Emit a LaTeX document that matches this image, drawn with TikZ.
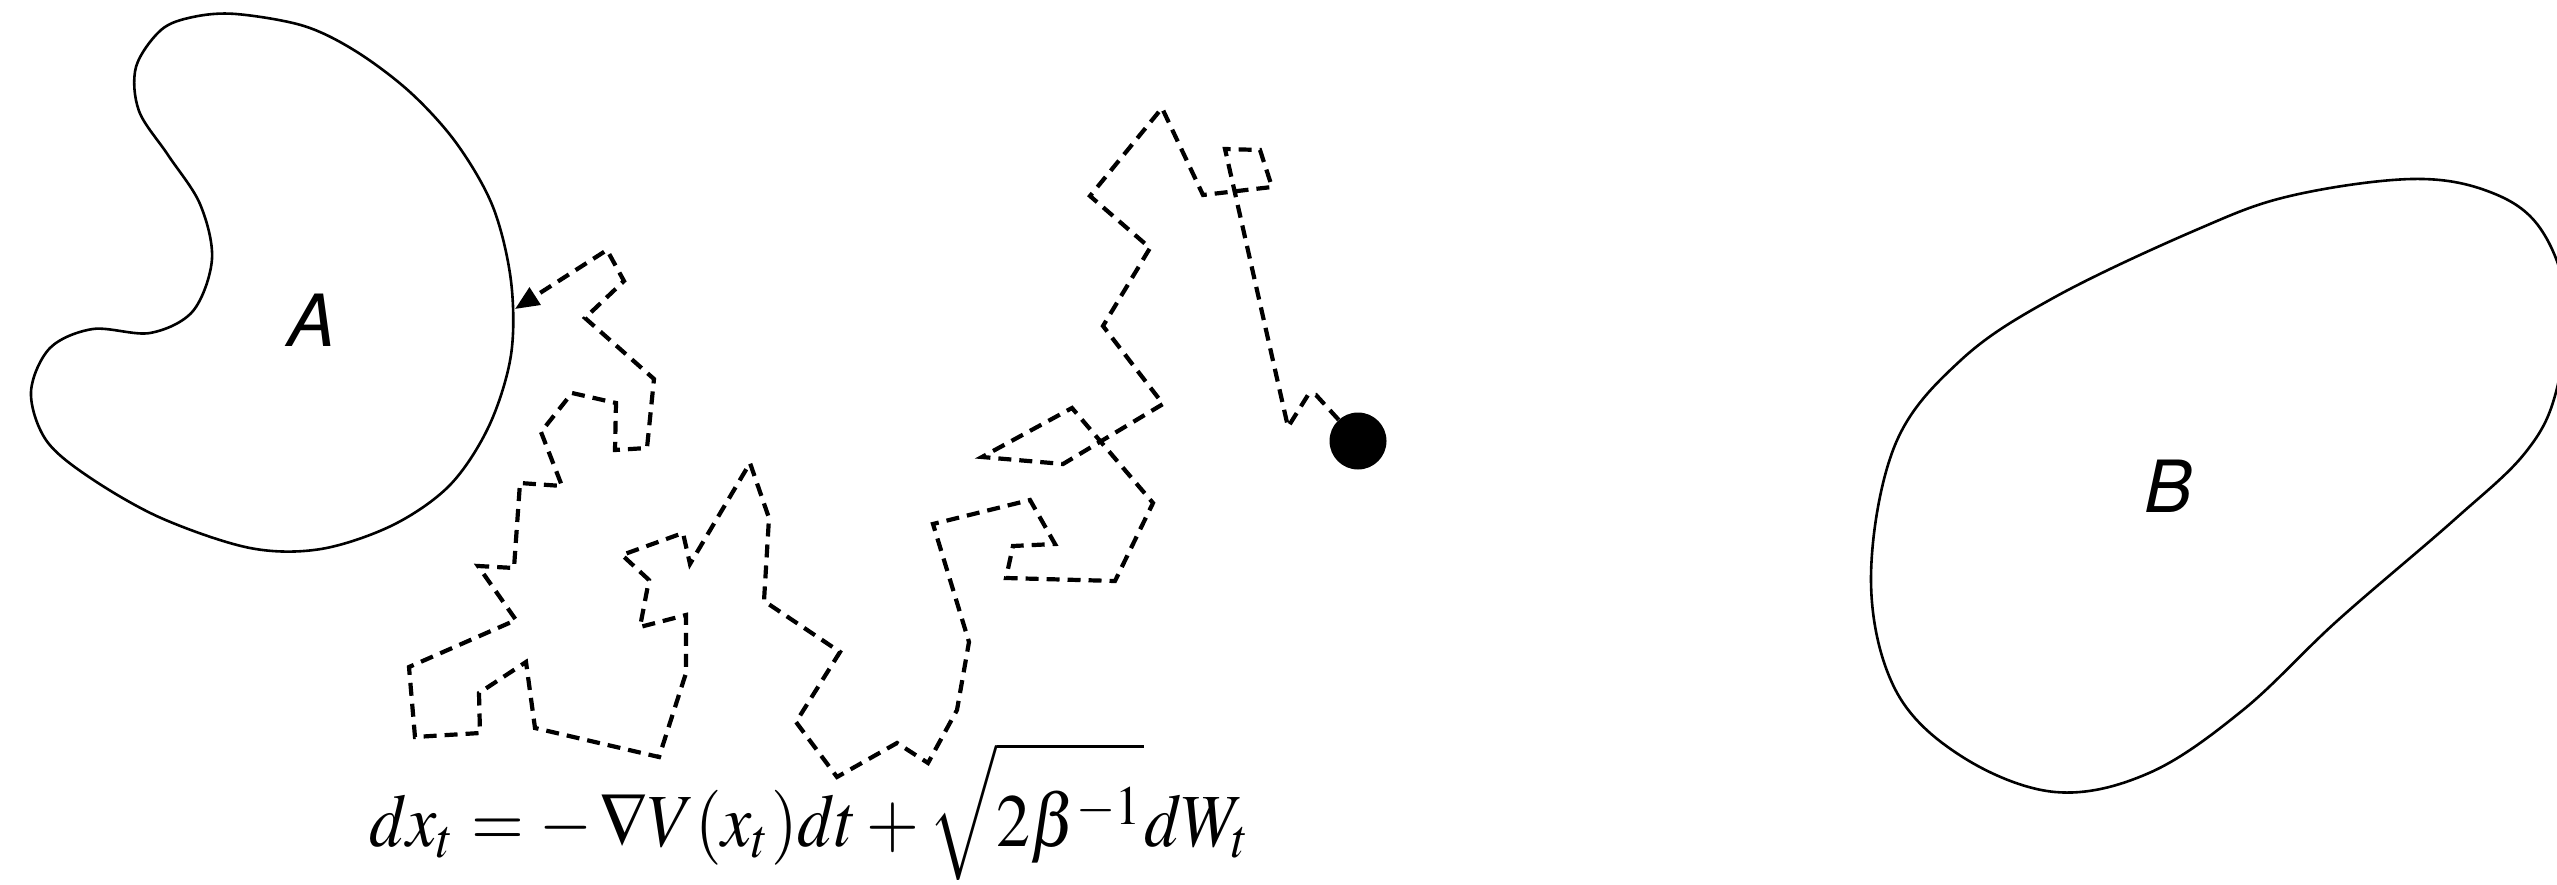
\documentclass[tikz,border=0pt]{standalone}
\usepackage{mathptmx}
\usepackage[no-math]{fontspec}
\newfontfamily\labelfont{TeX Gyre Heros}
\usetikzlibrary{arrows.meta}
\tikzset{
  blob/.style={line width=2.6pt, line join=round},
  walk/.style={line width=4.2pt, dash pattern=on 13pt off 8pt},
  setlabel/.style={font=\labelfont\itshape\fontsize{72}{80}\selectfont, inner sep=0pt},
  particle/.style={circle, fill=black, inner sep=0pt, minimum size=57pt},
}
\begin{document}
\begin{tikzpicture}[x=1pt, y=-1pt]
\useasboundingbox (0,0) rectangle (2557,885);
\clip (0,0) rectangle (2557,885);
% set A
\draw[blob] plot[smooth cycle, tension=0.55] coordinates {
 (236,14) (304,26) (357,52) (411,93) (457,144) (493,207) (511,281) (511,355)
 (489,426) (450,485) (393,525) (321,549) (250,548) (161,518) (89,477) (46,440)
 (31,392) (50,348) (93,329) (150,333) (193,311) (212,259) (200,204) (168,155)
 (139,111) (136,67) (161,30) (193,17)};
\node[setlabel] (A) at (312,320) {A};
% set B
\draw[blob] plot[smooth cycle, tension=0.6] coordinates {
 (2412,179) (2490,192) (2540,228) (2566,300) (2556,392) (2525,453) (2454,520)
 (2337,621) (2243,710) (2149,773) (2055,792) (1961,756) (1895,689) (1871,579)
 (1895,445) (1961,360) (2055,297) (2196,230) (2290,196)};
\node[setlabel] (B) at (2168,486) {B};
% particle and its path
\node[particle] (x0) at (1358,441) {};
\coordinate (hit) at (515,309);
\draw[walk, -{Triangle[length=24pt, width=20pt]}] (x0)
 -- (1316,395) -- (1308,395) -- (1288,427) -- (1225,149) -- (1260,150)
 -- (1272,187) -- (1203,195) -- (1162,108) -- (1090,196) -- (1150,248)
 -- (1103,326) -- (1163,404) -- (1063,464) -- (982,457) -- (1072,408)
 -- (1153,503) -- (1115,581) -- (1006,578) -- (1013,546) -- (1055,544)
 -- (1030,500) -- (933,524) -- (969,642) -- (957,710) -- (928,763)
 -- (897,743) -- (837,777) -- (796,722) -- (840,652) -- (764,601)
 -- (769,518) -- (750,463) -- (690,564) -- (683,533) -- (622,555)
 -- (649,580) -- (640,627) -- (686,615) -- (686,673) -- (659,757)
 -- (535,728) -- (526,662) -- (479,693) -- (480,733) -- (415,737)
 -- (409,667) -- (516,620) -- (478,566) -- (514,568) -- (520,483)
 -- (562,486) -- (541,432) -- (572,393) -- (616,403) -- (615,450)
 -- (647,448) -- (654,379) -- (585,318) -- (624,281) -- (607,250)
 -- (hit);
% equation
\node[anchor=base, xscale=6.8, yscale=7.5, inner sep=0pt] (eq) at (810,846)
 {$dx_t = -\,\nabla V(x_t)dt + \sqrt{\rule{0pt}{10.2pt}2\beta^{-1}}dW_t$};
\end{tikzpicture}
\end{document}
